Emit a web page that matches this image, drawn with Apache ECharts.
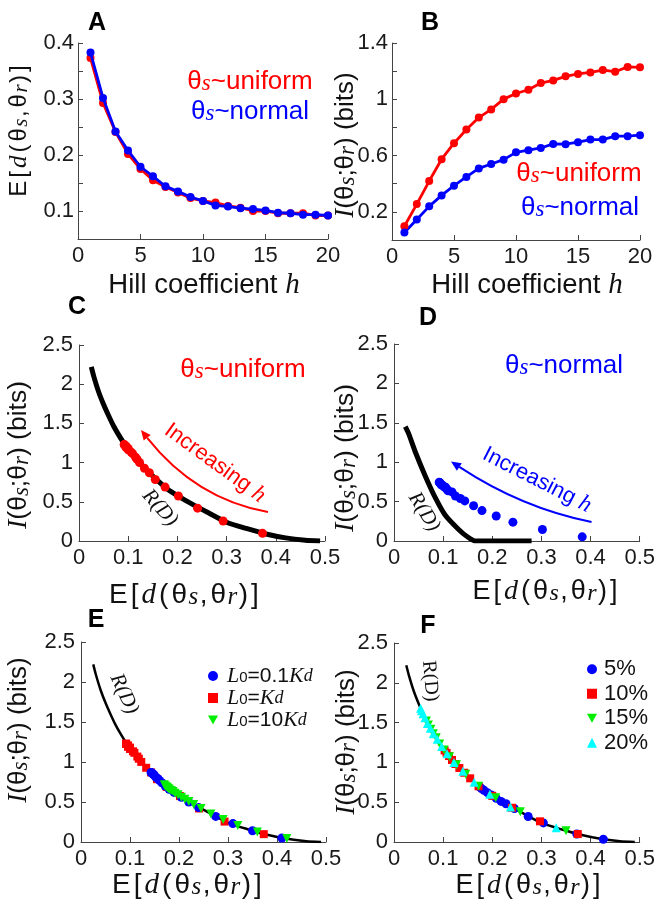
<!DOCTYPE html>
<html><head><meta charset="utf-8">
<script src="https://cdn.jsdelivr.net/npm/echarts@6/dist/echarts.min.js"></script>
<style>html,body{margin:0;padding:0;background:#fff}#c{width:658px;height:899px}</style>
</head><body><div id="c"></div>
<script>
// ---------------- data ----------------
const hValues = [1,2,3,4,5,6,7,8,9,10,11,12,13,14,15,16,17,18,19,20];
const distUniform = [0.373,0.293,0.241,0.202,0.175,0.155,0.143,0.133,0.123,0.118,0.115,0.109,0.106,0.100,0.100,0.096,0.096,0.096,0.092,0.092];
const distNormal  = [0.383,0.302,0.242,0.208,0.179,0.162,0.144,0.135,0.125,0.118,0.110,0.108,0.105,0.1035,0.101,0.097,0.096,0.0935,0.0935,0.092];
const infoUniform = [0.098,0.255,0.419,0.574,0.688,0.785,0.870,0.928,1.001,1.041,1.068,1.115,1.134,1.163,1.180,1.191,1.208,1.196,1.230,1.227];
const infoNormal  = [0.053,0.146,0.239,0.317,0.386,0.448,0.509,0.540,0.571,0.623,0.638,0.654,0.683,0.681,0.695,0.714,0.714,0.738,0.738,0.745];

// rate-distortion curve, uniform source
const rdUniformX = [0.025,0.03,0.04,0.05,0.06,0.07,0.08,0.09,0.10,0.12,0.14,0.16,0.18,0.20,0.23,0.26,0.30,0.34,0.38,0.42,0.46,0.49];
const rdUniformY = [2.22,2.10,1.90,1.74,1.60,1.47,1.36,1.26,1.17,1.02,0.89,0.77,0.66,0.58,0.47,0.37,0.24,0.16,0.09,0.04,0.01,0.0];
// rate-distortion curve, normal source
const rdNormalX = [0.023,0.03,0.044,0.064,0.084,0.104,0.131,0.150,0.165,0.20,0.28];
const rdNormalY = [1.45,1.36,1.12,0.82,0.55,0.33,0.15,0.05,0.0,0.0,0.0];

// panel E
const eLowX  = [0.41,0.35,0.31,0.275,0.24,0.22,0.205,0.19,0.18,0.172,0.165,0.16,0.157,0.153,0.15,0.148,0.147,0.145,0.144,0.143];
const eLowY  = [0.05,0.14,0.23,0.32,0.43,0.50,0.56,0.62,0.66,0.70,0.74,0.77,0.79,0.81,0.83,0.845,0.85,0.86,0.865,0.87];
const eHighX = [0.42,0.36,0.32,0.29,0.265,0.245,0.23,0.22,0.212,0.205,0.198,0.192,0.188,0.184,0.18,0.178,0.176,0.174,0.172,0.17];
const eHighY = [0.045,0.125,0.205,0.28,0.35,0.42,0.47,0.505,0.535,0.56,0.59,0.61,0.63,0.645,0.66,0.67,0.68,0.69,0.70,0.715];

// panel F
const f5X  = [0.426,0.372,0.304,0.273,0.245,0.228,0.218,0.208,0.198,0.190,0.183,0.178,0.175];
const f5Y  = [0.035,0.10,0.24,0.32,0.42,0.48,0.51,0.55,0.59,0.62,0.65,0.67,0.69];
const f10X = [0.374,0.297,0.240,0.200,0.172,0.155,0.143,0.133,0.125,0.118,0.112,0.107,0.103];
const f10Y = [0.10,0.26,0.43,0.58,0.70,0.80,0.87,0.93,0.98,1.03,1.08,1.12,1.15];
const f15X = [0.350,0.257,0.207,0.172,0.146,0.127,0.113,0.102,0.093,0.086,0.080,0.075,0.070,0.066];
const f15Y = [0.14,0.38,0.555,0.70,0.85,0.97,1.07,1.155,1.23,1.31,1.36,1.415,1.47,1.52];
const f20X = [0.330,0.237,0.195,0.163,0.140,0.122,0.108,0.097,0.088,0.080,0.074,0.068,0.063,0.059,0.056,0.054];
const f20Y = [0.18,0.44,0.60,0.75,0.89,1.00,1.11,1.20,1.29,1.36,1.43,1.49,1.56,1.61,1.65,1.68];

const seriesNamesE = ['L0=0.1Kd','L0=Kd','L0=10Kd'];
const seriesNamesF = ['5%','10%','15%','20%'];

// ---------------- style ----------------
const SANS = "'Liberation Sans', Arial, Helvetica, sans-serif";
const SERIF = "'Liberation Serif', 'DejaVu Serif', 'Times New Roman', serif";
const RED = '#ff0000', BLUE = '#0000ff', GREEN = '#00ee00', CYAN = '#00ffff', AX = '#444';
const DOWN_TRI = 'path://M0,0L10,0L5,9Z';
const TICK_FS = 22;

function mkRich(fs, color) {
  return {
    i: {fontFamily: SERIF, fontStyle: 'italic', fontSize: Math.round(fs*1.05), fill: color, color: color},
    s: {fontFamily: SERIF, fontStyle: 'italic', fontSize: Math.round(fs*0.88), fill: color, color: color, verticalAlign: 'bottom', lineHeight: Math.round(fs*0.62)},
    d: {fontFamily: SANS, fontSize: Math.round(fs*0.72), fill: color, color: color, verticalAlign: 'bottom', lineHeight: Math.round(fs*0.55)},
    n: {fontFamily: SANS, fontSize: fs, fill: color, color: color, padding: [0,1.5,0,1.5]},
    m: {fontFamily: SERIF, fontStyle: 'italic', fontSize: Math.round(fs*1.05), fill: color, color: color, padding: [0,1.5,0,1.5]}
  };
}

const grids = [
  {left: 78, top: 43, width: 250, height: 196},
  {left: 392, top: 43, width: 248, height: 197},
  {left: 79, top: 345, width: 246, height: 196},
  {left: 394, top: 344, width: 249, height: 197},
  {left: 81, top: 642, width: 245, height: 200},
  {left: 394, top: 643, width: 246, height: 199}
];

function fmtNum(v) { return String(+(+v).toFixed(2)); }
function lab(extra) { return Object.assign({fontFamily: SANS, fontSize: TICK_FS, color: '#1a1a1a', margin: 6}, extra); }
function baseAxis(extra) {
  return Object.assign({
    axisLine: {show: true, onZero: false, lineStyle: {color: AX, width: 1}},
    axisTick: {show: true, inside: true, length: 5, lineStyle: {color: AX}},
    splitLine: {show: false},
    axisLabel: lab({})
  }, extra);
}

const xAxes = [
  baseAxis({type: 'value', gridIndex: 0, min: 0, max: 20, interval: 5}),
  baseAxis({type: 'value', gridIndex: 1, min: 0, max: 20, interval: 5}),
  baseAxis({type: 'value', gridIndex: 2, min: 0, max: 0.5, interval: 0.1, axisLabel: lab({formatter: fmtNum})}),
  baseAxis({type: 'value', gridIndex: 3, min: 0, max: 0.5, interval: 0.1, axisLabel: lab({formatter: fmtNum})}),
  baseAxis({type: 'value', gridIndex: 4, min: 0, max: 0.5, interval: 0.1, axisLabel: lab({formatter: fmtNum})}),
  baseAxis({type: 'value', gridIndex: 5, min: 0, max: 0.5, interval: 0.1, axisLabel: lab({formatter: fmtNum})})
];
const yAxes = [
  baseAxis({type: 'value', gridIndex: 0, min: 0.05, max: 0.4, interval: 0.05,
    axisLabel: lab({margin: 4, formatter: v => Math.abs(v*10 - Math.round(v*10)) < 1e-6 ? fmtNum(v) : ''})}),
  baseAxis({type: 'value', gridIndex: 1, min: 0, max: 1.4, interval: 0.2,
    axisLabel: lab({margin: 4, formatter: v => (Math.round(v/0.2) % 2 === 1) ? fmtNum(v) : ''})}),
  baseAxis({type: 'value', gridIndex: 2, min: 0, max: 2.5, interval: 0.5}),
  baseAxis({type: 'value', gridIndex: 3, min: 0, max: 2.5, interval: 0.5}),
  baseAxis({type: 'value', gridIndex: 4, min: 0, max: 2.5, interval: 0.5}),
  baseAxis({type: 'value', gridIndex: 5, min: 0, max: 2.5, interval: 0.5})
];

function zip(xs, ys) { return xs.map((x, i) => [x, ys[i]]); }
function dot(color) { return {color: color, opacity: 1}; }

const series = [
  {name: 'A uniform', type: 'line', xAxisIndex: 0, yAxisIndex: 0, data: zip(hValues, distUniform), symbol: 'circle', symbolSize: 8, lineStyle: {color: RED, width: 2.8}, itemStyle: dot(RED), z: 2},
  {name: 'A normal', type: 'line', xAxisIndex: 0, yAxisIndex: 0, data: zip(hValues, distNormal), symbol: 'circle', symbolSize: 8, lineStyle: {color: BLUE, width: 2.8}, itemStyle: dot(BLUE), z: 3},
  {name: 'B uniform', type: 'line', xAxisIndex: 1, yAxisIndex: 1, data: zip(hValues, infoUniform), symbol: 'circle', symbolSize: 8, lineStyle: {color: RED, width: 2.8}, itemStyle: dot(RED)},
  {name: 'B normal', type: 'line', xAxisIndex: 1, yAxisIndex: 1, data: zip(hValues, infoNormal), symbol: 'circle', symbolSize: 8, lineStyle: {color: BLUE, width: 2.8}, itemStyle: dot(BLUE)},
  {name: 'C R(D)', type: 'line', xAxisIndex: 2, yAxisIndex: 2, data: zip(rdUniformX, rdUniformY), showSymbol: false, smooth: 0.2, lineStyle: {color: '#000', width: 5}, z: 1},
  {name: 'C points', type: 'scatter', xAxisIndex: 2, yAxisIndex: 2, data: zip(distUniform, infoUniform), symbol: 'circle', symbolSize: 9, itemStyle: dot(RED), z: 3},
  {name: 'D R(D)', type: 'line', xAxisIndex: 3, yAxisIndex: 3, data: zip(rdNormalX, rdNormalY), showSymbol: false, smooth: 0.2, lineStyle: {color: '#000', width: 5}, z: 1},
  {name: 'D points', type: 'scatter', xAxisIndex: 3, yAxisIndex: 3, data: zip(distNormal, infoNormal), symbol: 'circle', symbolSize: 9, itemStyle: dot(BLUE), z: 3},
  {name: 'E R(D)', type: 'line', xAxisIndex: 4, yAxisIndex: 4, data: zip(rdUniformX, rdUniformY), showSymbol: false, smooth: 0.2, lineStyle: {color: '#000', width: 2.5}, z: 1},
  {name: seriesNamesE[1], type: 'scatter', xAxisIndex: 4, yAxisIndex: 4, data: zip(distUniform, infoUniform), symbol: 'rect', symbolSize: 8, itemStyle: dot(RED), z: 3},
  {name: seriesNamesE[0], type: 'scatter', xAxisIndex: 4, yAxisIndex: 4, data: zip(eLowX, eLowY), symbol: 'circle', symbolSize: 9, itemStyle: dot(BLUE), z: 4},
  {name: seriesNamesE[2], type: 'scatter', xAxisIndex: 4, yAxisIndex: 4, data: zip(eHighX, eHighY), symbol: DOWN_TRI, symbolSize: 9, itemStyle: dot(GREEN), z: 5},
  {name: 'F R(D)', type: 'line', xAxisIndex: 5, yAxisIndex: 5, data: zip(rdUniformX, rdUniformY), showSymbol: false, smooth: 0.2, lineStyle: {color: '#000', width: 2.5}, z: 1},
  {name: seriesNamesF[0], type: 'scatter', xAxisIndex: 5, yAxisIndex: 5, data: zip(f5X, f5Y), symbol: 'circle', symbolSize: 9, itemStyle: dot(BLUE), z: 3},
  {name: seriesNamesF[1], type: 'scatter', xAxisIndex: 5, yAxisIndex: 5, data: zip(f10X, f10Y), symbol: 'rect', symbolSize: 8, itemStyle: dot(RED), z: 4},
  {name: seriesNamesF[2], type: 'scatter', xAxisIndex: 5, yAxisIndex: 5, data: zip(f15X, f15Y), symbol: DOWN_TRI, symbolSize: 9, itemStyle: dot(GREEN), z: 5},
  {name: seriesNamesF[3], type: 'scatter', xAxisIndex: 5, yAxisIndex: 5, data: zip(f20X, f20Y), symbol: 'triangle', symbolSize: 9, itemStyle: dot(CYAN), z: 6}
];

const legendLabelE = {
  'L0=0.1Kd': '{i|L}{d|0}=0.1{i|K}{s|d}',
  'L0=Kd': '{i|L}{d|0}={i|K}{s|d}',
  'L0=10Kd': '{i|L}{d|0}=10{i|K}{s|d}'
};
const legends = [
  {orient: 'vertical', left: 203, top: 660, itemWidth: 10, itemHeight: 10, itemGap: 0,
   data: [{name: seriesNamesE[0], icon: 'circle'}, {name: seriesNamesE[1], icon: 'rect'}, {name: seriesNamesE[2], icon: DOWN_TRI}],
   formatter: n => legendLabelE[n],
   textStyle: {fontFamily: SANS, fontSize: 21, color: '#111', lineHeight: 19, padding: [0,0,0,4], rich: mkRich(21, '#111')}},
  {orient: 'vertical', left: 582, top: 652, itemWidth: 10, itemHeight: 10, itemGap: 0,
   data: [{name: seriesNamesF[0], icon: 'circle'}, {name: seriesNamesF[1], icon: 'rect'}, {name: seriesNamesF[2], icon: DOWN_TRI}, {name: seriesNamesF[3], icon: 'triangle'}],
   textStyle: {fontFamily: SANS, fontSize: 22, color: '#111', lineHeight: 24.5, padding: [0,0,0,2]}}
];

function txt(x, y, text, fs, color, opt) {
  opt = opt || {};
  return {type: 'text', x: x, y: y, rotation: (opt.rot || 0) * Math.PI / 180, z: 100,
    style: {text: text, fill: color, fontSize: fs, fontFamily: opt.family || SANS,
      fontWeight: opt.weight || 'normal', fontStyle: opt.style || 'normal',
      align: 'center', verticalAlign: 'middle', textAlign: 'center', textVerticalAlign: 'middle',
      rich: mkRich(fs, color)}};
}

const distTitle = '{n|E}{n|[}{m|d}{n|(}{n|θ}{s|s}{n|,}{n|θ}{s|r}{n|)}{n|]}';
const infoTitle = '{i|I}(θ{s|s};θ{s|r}) (bits)';
const hillTitle = 'Hill coefficient {i|h}';
const uniLabel = 'θ{s|s}~uniform';
const normLabel = 'θ{s|s}~normal';
const incLabel = 'Increasing {i|h}';

const texts = [
  txt(97, 23, 'A', 25, '#000', {weight: 'bold'}),
  txt(430, 23, 'B', 25, '#000', {weight: 'bold'}),
  txt(77, 307, 'C', 25, '#000', {weight: 'bold'}),
  txt(428, 318, 'D', 25, '#000', {weight: 'bold'}),
  txt(96, 620, 'E', 25, '#000', {weight: 'bold'}),
  txt(428, 626, 'F', 25, '#000', {weight: 'bold'}),
  // axis titles
  txt(204, 285, hillTitle, 27.5, '#111'),
  txt(527, 285, hillTitle, 27.5, '#111'),
  txt(19, 131, distTitle, 24, '#111', {rot: 90}),
  txt(346, 145, infoTitle, 26, '#111', {rot: 90}),
  txt(184, 595, distTitle, 28, '#111'),
  txt(545, 592, distTitle, 27, '#111'),
  txt(19, 455, infoTitle, 26.5, '#111', {rot: 90}),
  txt(346, 458, infoTitle, 26.5, '#111', {rot: 90}),
  txt(187, 885, distTitle, 28, '#111'),
  txt(528, 886, distTitle, 27, '#111'),
  txt(19, 730, infoTitle, 26, '#111', {rot: 90}),
  txt(347, 742, infoTitle, 26, '#111', {rot: 90}),
  // annotations
  txt(250, 82, uniLabel, 26, RED),
  txt(250, 112, normLabel, 26, BLUE),
  txt(579, 174, uniLabel, 26, RED),
  txt(580, 208, normLabel, 26, BLUE),
  txt(243, 370, uniLabel, 26, RED),
  txt(564, 366, normLabel, 26, BLUE),
  txt(215, 463, incLabel, 22, RED, {rot: -36}),
  txt(537, 480, incLabel, 22, BLUE, {rot: -27}),
  txt(160, 508, 'R(D)', 21, '#111', {rot: -48, family: SERIF, style: 'italic'}),
  txt(424, 512, 'R(D)', 21, '#111', {rot: -58, family: SERIF, style: 'italic'}),
  txt(124, 694, 'R(D)', 21, '#111', {rot: -65, family: SERIF, style: 'italic'}),
  txt(430, 681, 'R(D)', 20, '#111', {rot: -85, family: SERIF})
];

const chart = echarts.init(document.getElementById('c'), null, {renderer: 'canvas'});
chart.setOption({
  animation: false,
  backgroundColor: '#fff',
  grid: grids,
  xAxis: xAxes,
  yAxis: yAxes,
  legend: legends,
  series: series,
  graphic: texts
});

// curved arrows, anchored in data coordinates
const arrowC = {grid: 2, tail: [0.384, 0.37], ctrl: [0.237, 0.536], head: [0.126, 1.416], color: RED};
const arrowD = {grid: 3, tail: [0.402, 0.24], ctrl: [0.259, 0.42], head: [0.116, 1.01], color: BLUE};
function arrowEls(a) {
  const p0 = chart.convertToPixel({gridIndex: a.grid}, a.tail);
  const c = chart.convertToPixel({gridIndex: a.grid}, a.ctrl);
  const p2 = chart.convertToPixel({gridIndex: a.grid}, a.head);
  const dx = p2[0]-c[0], dy = p2[1]-c[1], L = Math.hypot(dx, dy);
  const ux = dx/L, uy = dy/L, len = 10, hw = 4.5;
  const b = [p2[0]-ux*len, p2[1]-uy*len];
  return [
    {type: 'bezierCurve', z: 90, shape: {x1: p0[0], y1: p0[1], x2: b[0], y2: b[1], cpx1: c[0], cpy1: c[1]}, style: {stroke: a.color, lineWidth: 2, fill: 'none'}},
    {type: 'polygon', z: 90, shape: {points: [p2, [b[0]-uy*hw, b[1]+ux*hw], [b[0]+uy*hw, b[1]-ux*hw]]}, style: {fill: a.color}}
  ];
}
chart.setOption({graphic: texts.concat(arrowEls(arrowC), arrowEls(arrowD))});
</script>
</body></html>
